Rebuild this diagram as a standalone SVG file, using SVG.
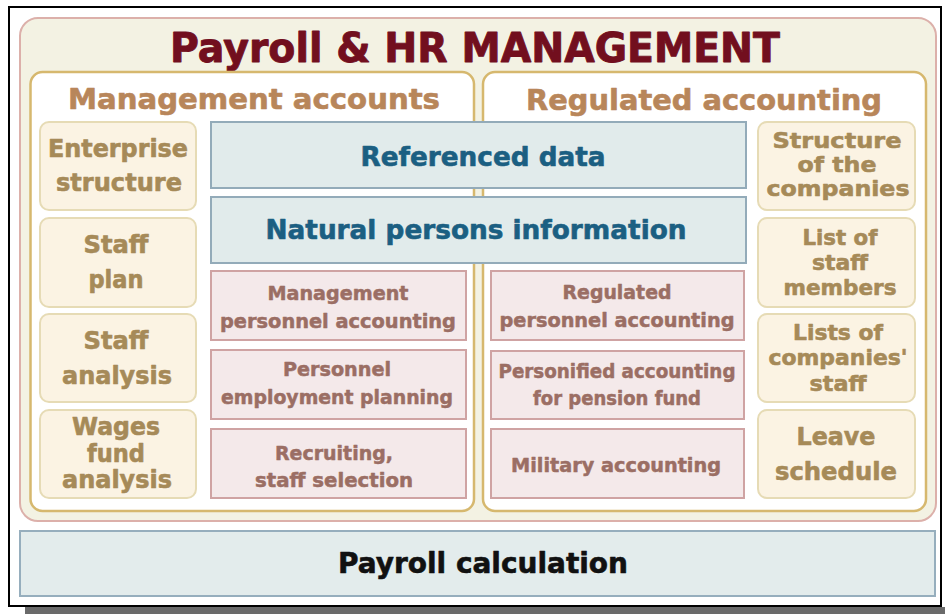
<svg xmlns="http://www.w3.org/2000/svg" width="945" height="614" viewBox="0 0 945 614">
<style>
text{font-family:"DejaVu Sans","Verdana",sans-serif;font-weight:bold;text-anchor:middle;stroke-width:0.6px;stroke-linejoin:round}
.title{font-size:40px;fill:#720f1e;stroke:#720f1e;stroke-width:0.9px}
.sub{font-size:28px;fill:#b8865a;stroke:#b8865a}
.side{fill:#fbf3e3;stroke:#e6dbb5;stroke-width:2}
.sideL{font-size:24px;fill:#a68a58;stroke:#a68a58}
.sideR{font-size:22px;fill:#a68a58;stroke:#a68a58}
.blue{fill:#e1ebeb;stroke:#93abb9;stroke-width:2}
.blueT{font-size:26px;fill:#1b5f82;stroke:#1b5f82}
.pink{fill:#f4e9ea;stroke:#cfa3a3;stroke-width:2}
.pinkT{font-size:19px;fill:#9b6e64;stroke:#9b6e64;stroke-width:0.5px}
.panel{fill:#ffffff;stroke:#d6b86e;stroke-width:2.5}
.calc{font-size:28px;fill:#111111;stroke:#111111}
</style>
<rect x="0" y="0" width="945" height="614" fill="#ffffff"/>
<rect x="25" y="607" width="920" height="7" fill="#6a6a6a"/>
<rect x="9" y="7" width="932" height="599" fill="#ffffff" stroke="#000000" stroke-width="2"/>

<g id="hr-management">
<rect x="20" y="18" width="916" height="503" rx="18" fill="#f3f2e3" stroke="#dcb0aa" stroke-width="2"/>
<text class="title" x="475" y="62" textLength="610" lengthAdjust="spacingAndGlyphs">Payroll &amp; HR MANAGEMENT</text>
</g>

<g id="management-accounts">
<rect class="panel" x="30.5" y="72" width="443.5" height="439" rx="12"/>
<text class="sub" x="254" y="109" textLength="372" lengthAdjust="spacingAndGlyphs">Management accounts</text>
</g>
<g id="regulated-accounting">
<rect class="panel" x="483" y="72" width="443" height="439" rx="12"/>
<text class="sub" x="704" y="110" textLength="356" lengthAdjust="spacingAndGlyphs">Regulated accounting</text>
</g>

<g id="enterprise-structure">
<rect class="side" x="40" y="122" width="156" height="88" rx="9"/>
<text class="sideL" x="118" y="157" textLength="140" lengthAdjust="spacingAndGlyphs">Enterprise</text>
<text class="sideL" x="119" y="191" textLength="126" lengthAdjust="spacingAndGlyphs">structure</text>
</g>
<g id="staff-plan">
<rect class="side" x="40" y="218" width="156" height="89" rx="9"/>
<text class="sideL" x="116" y="253" textLength="65" lengthAdjust="spacingAndGlyphs">Staff</text>
<text class="sideL" x="116" y="288" textLength="55" lengthAdjust="spacingAndGlyphs">plan</text>
</g>
<g id="staff-analysis">
<rect class="side" x="40" y="314" width="156" height="88" rx="9"/>
<text class="sideL" x="116" y="349" textLength="65" lengthAdjust="spacingAndGlyphs">Staff</text>
<text class="sideL" x="117" y="384" textLength="110" lengthAdjust="spacingAndGlyphs">analysis</text>
</g>
<g id="wages-fund-analysis">
<rect class="side" x="40" y="410" width="156" height="88" rx="9"/>
<text class="sideL" x="116" y="435" textLength="88" lengthAdjust="spacingAndGlyphs">Wages</text>
<text class="sideL" x="116" y="462" textLength="58" lengthAdjust="spacingAndGlyphs">fund</text>
<text class="sideL" x="117" y="488" textLength="110" lengthAdjust="spacingAndGlyphs">analysis</text>
</g>

<g id="structure-companies">
<rect class="side" x="758" y="122" width="157" height="88" rx="9"/>
<text class="sideR" x="837" y="148" textLength="129" lengthAdjust="spacingAndGlyphs">Structure</text>
<text class="sideR" x="837" y="172" textLength="79" lengthAdjust="spacingAndGlyphs">of the</text>
<text class="sideR" x="838" y="196" textLength="143" lengthAdjust="spacingAndGlyphs">companies</text>
</g>
<g id="list-staff-members">
<rect class="side" x="758" y="218" width="157" height="89" rx="9"/>
<text class="sideR" x="840" y="245" textLength="75" lengthAdjust="spacingAndGlyphs">List of</text>
<text class="sideR" x="840" y="270" textLength="56" lengthAdjust="spacingAndGlyphs">staff</text>
<text class="sideR" x="840" y="295" textLength="113" lengthAdjust="spacingAndGlyphs">members</text>
</g>
<g id="lists-companies-staff">
<rect class="side" x="758" y="314" width="157" height="88" rx="9"/>
<text class="sideR" x="838" y="340" textLength="90" lengthAdjust="spacingAndGlyphs">Lists of</text>
<text class="sideR" x="838" y="365" textLength="139" lengthAdjust="spacingAndGlyphs">companies'</text>
<text class="sideR" x="838" y="391" textLength="57" lengthAdjust="spacingAndGlyphs">staff</text>
</g>
<g id="leave-schedule">
<rect class="side" x="758" y="410" width="157" height="88" rx="9"/>
<text class="sideL" x="836" y="445" textLength="79" lengthAdjust="spacingAndGlyphs">Leave</text>
<text class="sideL" x="836" y="480" textLength="122" lengthAdjust="spacingAndGlyphs">schedule</text>
</g>

<g id="referenced-data">
<rect class="blue" x="211" y="122" width="535" height="66"/>
<text class="blueT" x="483" y="166" textLength="245" lengthAdjust="spacingAndGlyphs">Referenced data</text>
</g>
<g id="natural-persons">
<rect class="blue" x="211" y="197" width="535" height="66"/>
<text class="blueT" x="476" y="239" textLength="421" lengthAdjust="spacingAndGlyphs">Natural persons information</text>
</g>

<g id="management-personnel">
<rect class="pink" x="211" y="271" width="255" height="69"/>
<text class="pinkT" x="338" y="300" textLength="141" lengthAdjust="spacingAndGlyphs">Management</text>
<text class="pinkT" x="338" y="328" textLength="236" lengthAdjust="spacingAndGlyphs">personnel accounting</text>
</g>
<g id="employment-planning">
<rect class="pink" x="211" y="350" width="255" height="69"/>
<text class="pinkT" x="337" y="376" textLength="108" lengthAdjust="spacingAndGlyphs">Personnel</text>
<text class="pinkT" x="337" y="404" textLength="232" lengthAdjust="spacingAndGlyphs">employment planning</text>
</g>
<g id="recruiting">
<rect class="pink" x="211" y="429" width="255" height="69"/>
<text class="pinkT" x="334" y="460" textLength="118" lengthAdjust="spacingAndGlyphs">Recruiting,</text>
<text class="pinkT" x="334" y="487" textLength="158" lengthAdjust="spacingAndGlyphs">staff selection</text>
</g>

<g id="regulated-personnel">
<rect class="pink" x="491" y="271" width="253" height="69"/>
<text class="pinkT" x="617" y="299" textLength="109" lengthAdjust="spacingAndGlyphs">Regulated</text>
<text class="pinkT" x="617" y="327" textLength="235" lengthAdjust="spacingAndGlyphs">personnel accounting</text>
</g>
<g id="personified-accounting">
<rect class="pink" x="491" y="351" width="253" height="68"/>
<text class="pinkT" x="617" y="378" textLength="237" lengthAdjust="spacingAndGlyphs">Personified accounting</text>
<text class="pinkT" x="617" y="405" textLength="168" lengthAdjust="spacingAndGlyphs">for pension fund</text>
</g>
<g id="military-accounting">
<rect class="pink" x="491" y="429" width="253" height="69"/>
<text class="pinkT" x="616" y="472" textLength="210" lengthAdjust="spacingAndGlyphs">Military accounting</text>
</g>

<g id="payroll-calculation">
<rect x="20" y="531" width="915" height="65" fill="#e3ecec" stroke="#96aebd" stroke-width="2"/>
<text class="calc" x="483" y="573" textLength="290" lengthAdjust="spacingAndGlyphs">Payroll calculation</text>
</g>

<g id="connectors"/>
</svg>
